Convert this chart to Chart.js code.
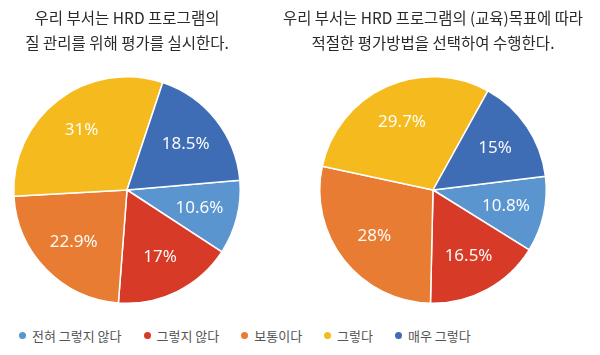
<!DOCTYPE html>
<html>
<head>
<meta charset="utf-8">
<script src="https://cdn.jsdelivr.net/npm/chart.js@4"></script>
<style>
  html, body { margin: 0; padding: 0; background: #fff; }
  body { width: 600px; height: 355px; position: relative; overflow: hidden; }
  .box { position: absolute; top: 0; height: 310px; }
  #legend { position: absolute; left: 19px; top: 326px; height: 18px; display: flex; align-items: center;
            font-family: "Noto Sans CJK KR", "Noto Sans", sans-serif; font-size: 13px; color: #555; }
  .item { display: flex; align-items: center; margin-right: 22px; white-space: nowrap; }
  .dot { width: 7px; height: 7px; border-radius: 50%; margin-right: 6px; }
</style>
</head>
<body>
<div class="box" style="left:0;width:254px;"><canvas id="c1"></canvas></div>
<div class="box" style="left:283px;width:300px;"><canvas id="c2"></canvas></div>
<div id="legend"></div>
<script>
const categories = ["전혀 그렇지 않다", "그렇지 않다", "보통이다", "그렇다", "매우 그렇다"];
const colors = ["#5b95d0", "#d73a27", "#e87c33", "#f5ba1e", "#3f6db5"];
const valuesLeft = [10.6, 17, 22.9, 31, 18.5];
const valuesRight = [10.8, 16.5, 28, 29.7, 15];
const titleLeft = ["우리 부서는 HRD 프로그램의", "질 관리를 위해 평가를 실시한다."];
const titleRight = ["우리 부서는 HRD 프로그램의 (교육)목표에 따라", "적절한 평가방법을 선택하여 수행한다."];

const sliceLabels = {
  id: 'sliceLabels',
  afterDatasetsDraw(chart) {
    const ctx = chart.ctx;
    const meta = chart.getDatasetMeta(0);
    const data = chart.data.datasets[0].data;
    ctx.save();
    ctx.font = '17px "Noto Sans", sans-serif';
    ctx.fillStyle = 'rgba(255,255,255,0.96)';
    ctx.textAlign = 'center';
    ctx.textBaseline = 'middle';
    meta.data.forEach((arc, i) => {
      const p = arc.getProps(['x', 'y', 'startAngle', 'endAngle', 'outerRadius'], true);
      const mid = (p.startAngle + p.endAngle) / 2;
      const r = p.outerRadius * 0.66;
      ctx.fillText(data[i] + '%', p.x + Math.cos(mid) * r, p.y + Math.sin(mid) * r);
    });
    ctx.restore();
  }
};

function makePie(id, values, title, rotation) {
  return new Chart(document.getElementById(id), {
    type: 'pie',
    data: {
      labels: categories,
      datasets: [{ data: values, backgroundColor: colors, borderColor: '#ffffff', borderWidth: 1.5 }]
    },
    options: {
      responsive: true,
      maintainAspectRatio: false,
      animation: false,
      rotation: rotation,
      layout: { padding: { bottom: 6 } },
      plugins: {
        legend: { display: false },
        tooltip: { enabled: false },
        title: {
          display: true,
          text: title,
          color: '#2a2a2a',
          font: { family: '"Noto Sans CJK KR", "Noto Sans", sans-serif', size: 15.5, weight: 'normal', lineHeight: 1.613 },
          padding: { top: 6, bottom: 20 }
        }
      }
    },
    plugins: [sliceLabels]
  });
}

makePie('c1', valuesLeft, titleLeft, 85);
makePie('c2', valuesRight, titleRight, 83);

const legend = document.getElementById('legend');
categories.forEach((name, i) => {
  const item = document.createElement('div');
  item.className = 'item';
  const dot = document.createElement('span');
  dot.className = 'dot';
  dot.style.background = colors[i];
  const txt = document.createElement('span');
  txt.textContent = name;
  item.appendChild(dot);
  item.appendChild(txt);
  legend.appendChild(item);
});
</script>
</body>
</html>
